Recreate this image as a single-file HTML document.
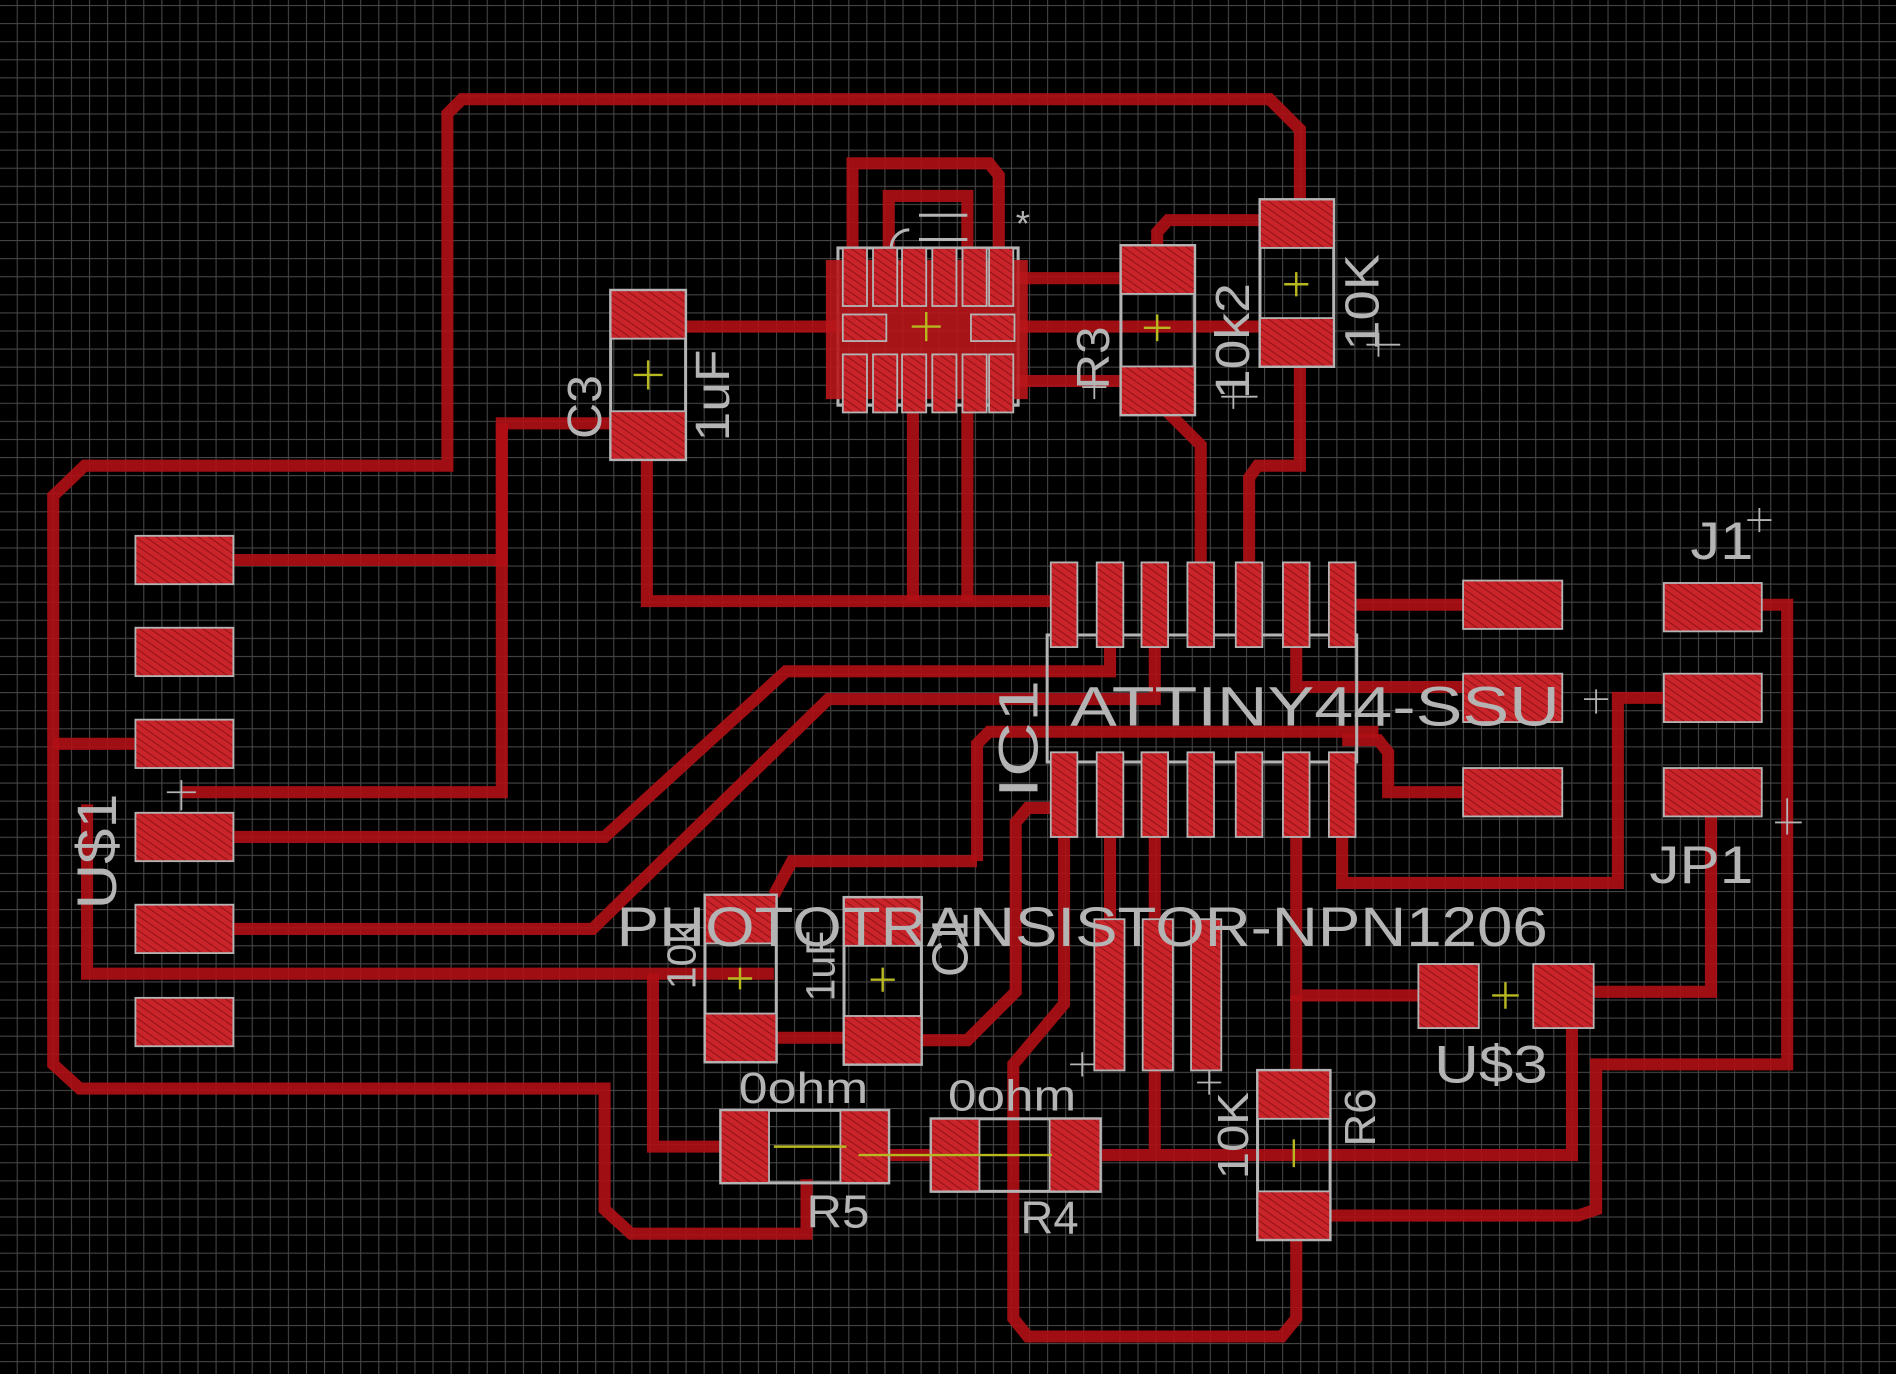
<!DOCTYPE html>
<html><head><meta charset="utf-8"><style>
html,body{margin:0;padding:0;background:#000;overflow:hidden}
svg{display:block}
text{font-family:"Liberation Sans",sans-serif;fill:#b4b4b4}
</style></head><body>
<svg width="1896" height="1374" viewBox="0 0 1568 1136" preserveAspectRatio="none" xmlns="http://www.w3.org/2000/svg">
<defs>
<pattern id="g" x="13.8" y="4.1" width="14.95" height="14.95" patternUnits="userSpaceOnUse">
<path d="M0 0H14.95M0 0V14.95" stroke="#454545" stroke-width="1.8" fill="none"/>
</pattern>
<pattern id="h" width="5" height="5" patternUnits="userSpaceOnUse" patternTransform="rotate(-55)">
<rect width="5" height="5" fill="#c8242a"/><line x1="0" y1="0" x2="0" y2="5" stroke="#8e1216" stroke-width="1.6"/>
</pattern>
</defs>
<rect width="1568" height="1136" fill="#000"/>
<rect width="1568" height="1136" fill="url(#g)"/>

<g fill="none" stroke="#b01015" stroke-opacity="0.9" stroke-width="10" stroke-linejoin="miter">
<path d="M1075,183V107L1050,82H382L370,94V385H70L44,410V880L66,900H500V1000L522,1020H667V975"/>
<path d="M44,615H150"/>
<path d="M150,463H415V350H535"/>
<path d="M415,350V655H150"/>
<path d="M150,692H500L650,555H918V520"/>
<path d="M150,768H490L685,578H955V500"/>
<path d="M72,665V805H640"/>
<path d="M535,270H700"/>
<path d="M535,360V497H880"/>
<path d="M755,330V497M800,330V497"/>
<path d="M705,215V135H818L826,145V215"/>
<path d="M735,215V162H800V215"/>
<path d="M840,230H930M840,270H1075M840,315H930"/>
<path d="M957,205V192L966,182H1075"/>
<path d="M960,335L993,368V500"/>
<path d="M1075,283V385H1040L1033,395V500"/>
<path d="M1110,500H1250"/>
<path d="M1072,520V568H1250"/>
<path d="M1110,612H1140L1148,622V655H1250"/>
<path d="M808,712V615L818,605H1140"/>
<path d="M1110,680V730H1338V577H1415"/>
<path d="M1415,500H1478V880H1320V1000L1305,1005H1075"/>
<path d="M1415,655V820H1293"/>
<path d="M1198,823H1072V692"/>
<path d="M1072,823V900"/>
<path d="M1293,823L1300,840V955H890"/>
<path d="M955,692V950"/>
<path d="M790,955H735"/>
<path d="M615,948H540V805"/>
<path d="M880,692V830L838,880V1090L850,1105H1060L1072,1090V1020"/>
<path d="M918,692V775"/>
<path d="M612,858H730"/>
<path d="M730,860H800L840,820V680L850,668H880"/>
<path d="M640,740L655,712H808"/>
</g>

<g fill="none" stroke="#b4b4b4" stroke-width="2.5">
<rect x="505" y="240" width="62" height="140"/>
<rect x="927" y="203" width="61" height="140"/>
<rect x="1042" y="165" width="61" height="138"/>
<rect x="866" y="525" width="256" height="105"/>
<rect x="583" y="740" width="59" height="138"/>
<rect x="698" y="742" width="64" height="138"/>
<rect x="596" y="918" width="139" height="60"/>
<rect x="770" y="925" width="140" height="60"/>
<rect x="1040" y="885" width="60" height="140"/>
<rect x="693" y="205" width="149" height="130"/>
<path d="M752,190a15,15 0 0 0 0,30M760,178H800M760,198H800"/>
</g>

<g fill="url(#h)" stroke="#b4b4b4" stroke-width="1.5">
<rect x="112" y="443" width="81" height="40"/><rect x="112" y="519" width="81" height="40"/>
<rect x="112" y="595" width="81" height="40"/><rect x="112" y="672" width="81" height="40"/>
<rect x="112" y="748" width="81" height="40"/><rect x="112" y="825" width="81" height="40"/>
<rect x="505" y="240" width="62" height="40"/><rect x="505" y="340" width="62" height="40"/>
<rect x="927" y="203" width="61" height="40"/><rect x="927" y="303" width="61" height="40"/>
<rect x="1042" y="165" width="61" height="40"/><rect x="1042" y="263" width="61" height="40"/>
<rect x="869" y="465" width="22" height="70"/><rect x="907" y="465" width="22" height="70"/>
<rect x="944" y="465" width="22" height="70"/><rect x="982" y="465" width="22" height="70"/>
<rect x="1022" y="465" width="22" height="70"/><rect x="1061" y="465" width="22" height="70"/>
<rect x="1099" y="465" width="22" height="70"/>
<rect x="869" y="622" width="22" height="70"/><rect x="907" y="622" width="22" height="70"/>
<rect x="944" y="622" width="22" height="70"/><rect x="982" y="622" width="22" height="70"/>
<rect x="1022" y="622" width="22" height="70"/><rect x="1061" y="622" width="22" height="70"/>
<rect x="1099" y="622" width="22" height="70"/>
<rect x="1210" y="480" width="82" height="40"/><rect x="1210" y="557" width="82" height="40"/>
<rect x="1210" y="635" width="82" height="40"/>
<rect x="1376" y="482" width="81" height="40"/><rect x="1376" y="557" width="81" height="40"/>
<rect x="1376" y="635" width="81" height="40"/>
<rect x="583" y="740" width="59" height="40"/><rect x="583" y="838" width="59" height="40"/>
<rect x="698" y="742" width="64" height="40"/><rect x="698" y="840" width="64" height="40"/>
<rect x="905" y="760" width="25" height="125"/><rect x="945" y="760" width="25" height="125"/>
<rect x="985" y="760" width="25" height="125"/>
<rect x="596" y="918" width="40" height="60"/><rect x="695" y="918" width="40" height="60"/>
<rect x="770" y="925" width="40" height="60"/><rect x="868" y="925" width="42" height="60"/>
<rect x="1173" y="797" width="50" height="53"/><rect x="1268" y="797" width="50" height="53"/>
<rect x="1040" y="885" width="60" height="40"/><rect x="1040" y="985" width="60" height="40"/>
</g>
<g fill="#b8161b" fill-opacity="0.9">
<rect x="683" y="215" width="167" height="115"/>
</g>
<g fill="url(#h)" stroke="#b4b4b4" stroke-width="1.5">
<rect x="697" y="205" width="20" height="48"/><rect x="722" y="205" width="20" height="48"/>
<rect x="746" y="205" width="20" height="48"/><rect x="771" y="205" width="20" height="48"/>
<rect x="796" y="205" width="20" height="48"/><rect x="818" y="205" width="20" height="48"/>
<rect x="697" y="293" width="20" height="48"/><rect x="722" y="293" width="20" height="48"/>
<rect x="746" y="293" width="20" height="48"/><rect x="771" y="293" width="20" height="48"/>
<rect x="796" y="293" width="20" height="48"/><rect x="818" y="293" width="20" height="48"/>
<rect x="697" y="260" width="36" height="22"/><rect x="803" y="260" width="36" height="22"/>
</g>

<g stroke="#b8b820" stroke-width="2">
<path d="M766,258V282M754,270H778"/>
<path d="M536,298V322M524,310H548"/>
<path d="M957,260V282M946,271H968"/>
<path d="M1072,225V245M1062,235H1082"/>
<path d="M730,800V820M720,810H740"/>
<path d="M612,800V818M602,809H622"/>
<path d="M1245,812V834M1234,823H1256"/>
<path d="M1070,942V965M640,948H700M710,955H870"/>
</g>
<g stroke="#b4b4b4" stroke-width="1.5">
<path d="M1455,420V440M1445,430H1465M1478,660V690M1468,680H1490M1140,275V295M1130,285H1158M1020,318V338M1010,328H1040M905,310V330M895,320H915"/>
<path d="M150,645V670M138,655H162M1320,570V590M1310,578H1330M895,870V890M885,880H905M1000,885V905M990,895H1010"/>
</g>

<text x="510" y="782" font-size="46" textLength="770" lengthAdjust="spacingAndGlyphs">PHOTOTRANSISTOR-NPN1206</text>
<text x="885" y="600" font-size="46" textLength="405" lengthAdjust="spacingAndGlyphs">ATTINY44-SSU</text>
<text x="1398" y="462" font-size="44" textLength="52" lengthAdjust="spacingAndGlyphs">J1</text>
<text x="1364" y="730" font-size="44" textLength="86" lengthAdjust="spacingAndGlyphs">JP1</text>
<text x="1186" y="895" font-size="44" textLength="94" lengthAdjust="spacingAndGlyphs">U$3</text>
<text x="611" y="912" font-size="36" textLength="107" lengthAdjust="spacingAndGlyphs">0ohm</text>
<text x="784" y="918" font-size="36" textLength="106" lengthAdjust="spacingAndGlyphs">0ohm</text>
<text x="667" y="1015" font-size="38" textLength="52" lengthAdjust="spacingAndGlyphs">R5</text>
<text x="844" y="1020" font-size="38" textLength="48" lengthAdjust="spacingAndGlyphs">R4</text>
<text x="840" y="195" font-size="30">*</text>
<text transform="translate(858,660) rotate(-90)" font-size="46" textLength="98" lengthAdjust="spacingAndGlyphs">IC1</text>
<text transform="translate(96,752) rotate(-90)" font-size="46" textLength="96" lengthAdjust="spacingAndGlyphs">U$1</text>
<text transform="translate(497,363) rotate(-90)" font-size="40" textLength="53" lengthAdjust="spacingAndGlyphs">C3</text>
<text transform="translate(603,365) rotate(-90)" font-size="40" textLength="76" lengthAdjust="spacingAndGlyphs">1uF</text>
<text transform="translate(917,322) rotate(-90)" font-size="38" textLength="52" lengthAdjust="spacingAndGlyphs">R3</text>
<text transform="translate(1033,330) rotate(-90)" font-size="40" textLength="96" lengthAdjust="spacingAndGlyphs">10k2</text>
<text transform="translate(1140,290) rotate(-90)" font-size="40" textLength="80" lengthAdjust="spacingAndGlyphs">10K</text>
<text transform="translate(1032,975) rotate(-90)" font-size="36" textLength="72" lengthAdjust="spacingAndGlyphs">10K</text>
<text transform="translate(1137,948) rotate(-90)" font-size="36" textLength="48" lengthAdjust="spacingAndGlyphs">R6</text>
<text transform="translate(575,818) rotate(-90)" font-size="34">10k</text>
<text transform="translate(690,828) rotate(-90)" font-size="34">1uF</text>
<text transform="translate(800,808) rotate(-90)" font-size="42">C1</text>
</svg>
</body></html>
